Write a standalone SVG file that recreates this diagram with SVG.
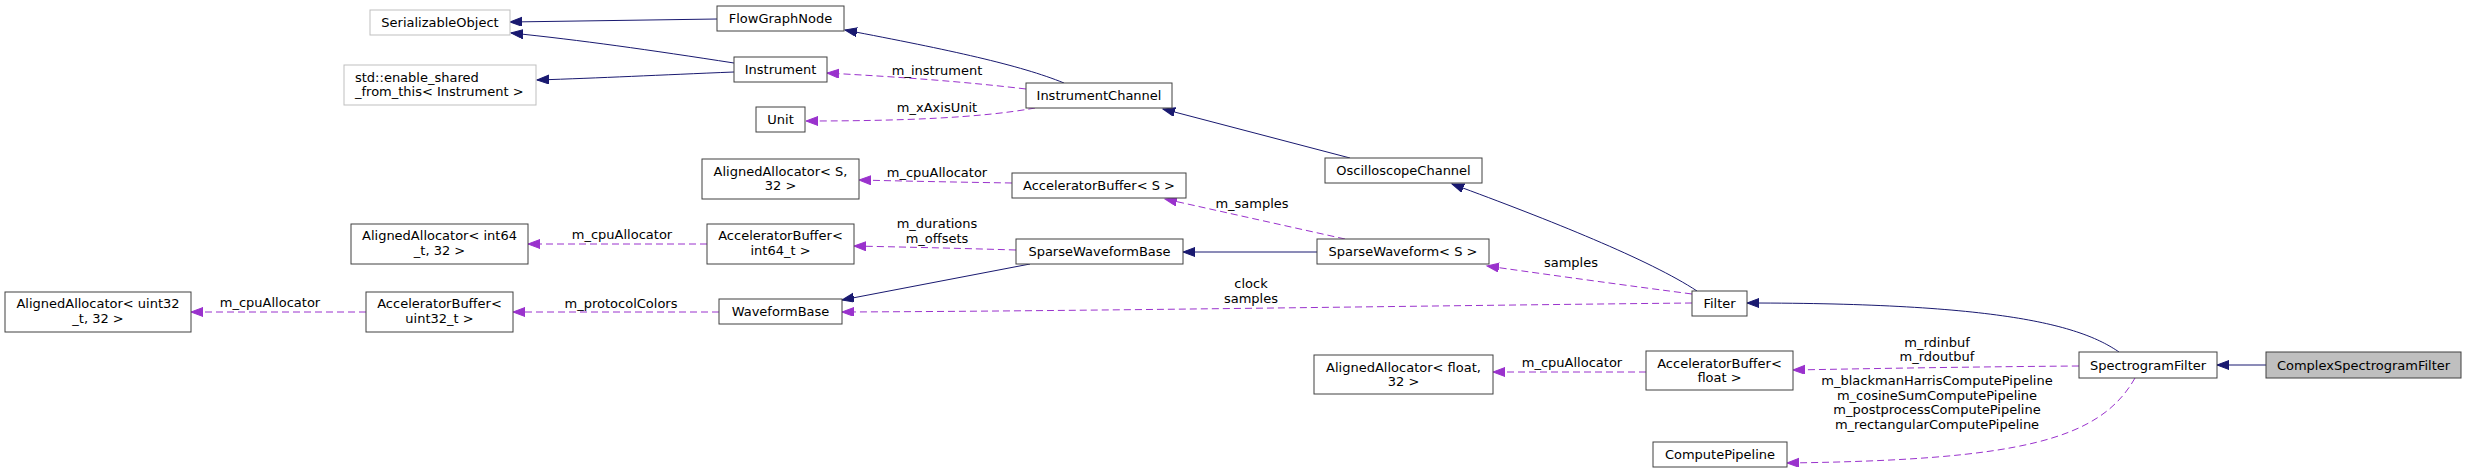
<svg xmlns="http://www.w3.org/2000/svg" width="2467" height="473" viewBox="0 0 2467 473">
<style>
text{font-family:"DejaVu Sans","Liberation Sans",sans-serif;font-size:13px;fill:#000}
.n rect{fill:#fff;stroke:#404040;stroke-width:1}
.g rect{fill:#fff;stroke:#bfbfbf;stroke-width:1}
.m{text-anchor:middle}
.s{fill:none;stroke:#191970;stroke-width:1}
.d{fill:none;stroke:#9a32cd;stroke-width:1;stroke-dasharray:7,4}
</style>
<defs>
<marker id="ab" markerUnits="userSpaceOnUse" markerWidth="14" markerHeight="10" refX="12" refY="4.5" orient="auto"><path d="M0,0 L12,4.5 L0,9 z" fill="#191970" stroke="#191970"/></marker>
<marker id="ap" markerUnits="userSpaceOnUse" markerWidth="14" markerHeight="10" refX="12" refY="4.5" orient="auto"><path d="M0,0 L12,4.5 L0,9 z" fill="#9a32cd" stroke="#9a32cd"/></marker>
</defs>
<rect width="2467" height="473" fill="#fff"/>
<g id="edges">
<path class="s" marker-end="url(#ab)" d="M717,19 L510,22"/>
<path class="s" marker-end="url(#ab)" d="M734,63 C650,50 580,40 511,33"/>
<path class="s" marker-end="url(#ab)" d="M734,72 C660,75 600,78 537,80"/>
<path class="s" marker-end="url(#ab)" d="M1064,83 C1020,65 950,50 845,30"/>
<path class="s" marker-end="url(#ab)" d="M1350,158 L1163,109"/>
<path class="s" marker-end="url(#ab)" d="M1697,291 C1650,260 1550,220 1452,184"/>
<path class="s" marker-end="url(#ab)" d="M1030,264 L842,300"/>
<path class="s" marker-end="url(#ab)" d="M1317,252 L1183,252"/>
<path class="s" marker-end="url(#ab)" d="M2119,352 C2080,325 2000,303 1747,303"/>
<path class="s" marker-end="url(#ab)" d="M2266,365 L2217,365"/>
<path class="d" marker-end="url(#ap)" d="M1026,89 C950,80 880,76 827,73"/>
<path class="d" marker-end="url(#ap)" d="M1035,108 C980,118 900,121 806,121"/>
<path class="d" marker-end="url(#ap)" d="M1012,183 C950,182 900,181 859,180"/>
<path class="d" marker-end="url(#ap)" d="M707,244 L528,244"/>
<path class="d" marker-end="url(#ap)" d="M1016,250 C950,248 900,247 854,246"/>
<path class="d" marker-end="url(#ap)" d="M366,312 L191,312"/>
<path class="d" marker-end="url(#ap)" d="M719,312 L513,312"/>
<path class="d" marker-end="url(#ap)" d="M1345,239 L1165,199"/>
<path class="d" marker-end="url(#ap)" d="M1692,294 C1600,282 1530,272 1487,266"/>
<path class="d" marker-end="url(#ap)" d="M1692,303 C1400,306 1100,311 842,312"/>
<path class="d" marker-end="url(#ap)" d="M2079,366 C1950,367 1850,369 1793,370"/>
<path class="d" marker-end="url(#ap)" d="M1646,372 L1493,372"/>
<path class="d" marker-end="url(#ap)" d="M2135,378 C2100,440 2020,460 1787,463"/>
<text class="m" x="937" y="75">m_instrument</text>
<text class="m" x="937" y="112">m_xAxisUnit</text>
<text class="m" x="937" y="177">m_cpuAllocator</text>
<text class="m" x="1252" y="208">m_samples</text>
<text class="m" x="937" y="228">m_durations</text>
<text class="m" x="937" y="243">m_offsets</text>
<text class="m" x="622" y="239">m_cpuAllocator</text>
<text class="m" x="1251" y="288">clock</text>
<text class="m" x="1251" y="303">samples</text>
<text class="m" x="1571" y="267">samples</text>
<text class="m" x="270" y="307">m_cpuAllocator</text>
<text class="m" x="621" y="308">m_protocolColors</text>
<text class="m" x="1572" y="367">m_cpuAllocator</text>
<text class="m" x="1937" y="347">m_rdinbuf</text>
<text class="m" x="1937" y="361">m_rdoutbuf</text>
<text class="m" x="1937" y="385">m_blackmanHarrisComputePipeline</text>
<text class="m" x="1937" y="399.7">m_cosineSumComputePipeline</text>
<text class="m" x="1937" y="414.4">m_postprocessComputePipeline</text>
<text class="m" x="1937" y="429">m_rectangularComputePipeline</text>
</g>
<g id="SerializableObject" class="g"><rect x="370" y="10" width="140" height="25"/><text class="m" x="440" y="27" fill="#000">SerializableObject</text></g>
<g id="FlowGraphNode" class="n"><rect x="717" y="6" width="127" height="25"/><text class="m" x="780.5" y="23">FlowGraphNode</text></g>
<g id="Instrument" class="n"><rect x="734" y="57" width="93" height="25"/><text class="m" x="780.5" y="74">Instrument</text></g>
<g id="enable_shared_from_this" class="g"><rect x="344" y="65" width="192" height="40"/><text x="355" y="81.5">std::enable_shared</text><text x="355" y="96">_from_this&lt; Instrument &gt;</text></g>
<g id="Unit" class="n"><rect x="756" y="107" width="49" height="25"/><text class="m" x="780.5" y="124">Unit</text></g>
<g id="InstrumentChannel" class="n"><rect x="1026" y="83" width="146" height="25"/><text class="m" x="1099" y="100">InstrumentChannel</text></g>
<g id="OscilloscopeChannel" class="n"><rect x="1325" y="158" width="157" height="25"/><text class="m" x="1403.5" y="175">OscilloscopeChannel</text></g>
<g id="AlignedAllocatorS" class="n"><rect x="702" y="159" width="157" height="40"/><text class="m" x="780.5" y="175.5">AlignedAllocator&lt; S,</text><text class="m" x="780.5" y="190">32 &gt;</text></g>
<g id="AcceleratorBufferS" class="n"><rect x="1012" y="173" width="174" height="25"/><text class="m" x="1099" y="190">AcceleratorBuffer&lt; S &gt;</text></g>
<g id="AlignedAllocatorInt64" class="n"><rect x="351" y="224" width="177" height="40"/><text class="m" x="439.5" y="240">AlignedAllocator&lt; int64</text><text class="m" x="439.5" y="255">_t, 32 &gt;</text></g>
<g id="AcceleratorBufferInt64" class="n"><rect x="707" y="224" width="147" height="40"/><text class="m" x="780.5" y="240">AcceleratorBuffer&lt;</text><text class="m" x="780.5" y="255">int64_t &gt;</text></g>
<g id="SparseWaveformBase" class="n"><rect x="1016" y="239" width="167" height="25"/><text class="m" x="1099.5" y="256">SparseWaveformBase</text></g>
<g id="SparseWaveformS" class="n"><rect x="1317" y="239" width="172" height="25"/><text class="m" x="1403" y="256">SparseWaveform&lt; S &gt;</text></g>
<g id="AlignedAllocatorUint32" class="n"><rect x="5" y="292" width="186" height="40"/><text class="m" x="98" y="308">AlignedAllocator&lt; uint32</text><text class="m" x="98" y="323">_t, 32 &gt;</text></g>
<g id="AcceleratorBufferUint32" class="n"><rect x="366" y="292" width="147" height="40"/><text class="m" x="439.5" y="308">AcceleratorBuffer&lt;</text><text class="m" x="439.5" y="323">uint32_t &gt;</text></g>
<g id="WaveformBase" class="n"><rect x="719" y="299" width="123" height="25"/><text class="m" x="780.5" y="316">WaveformBase</text></g>
<g id="Filter" class="n"><rect x="1692" y="291" width="55" height="25"/><text class="m" x="1719.5" y="308">Filter</text></g>
<g id="AlignedAllocatorFloat" class="n"><rect x="1314" y="355" width="179" height="39"/><text class="m" x="1403.5" y="371.5">AlignedAllocator&lt; float,</text><text class="m" x="1403.5" y="386">32 &gt;</text></g>
<g id="AcceleratorBufferFloat" class="n"><rect x="1646" y="351" width="147" height="39"/><text class="m" x="1719.5" y="367.5">AcceleratorBuffer&lt;</text><text class="m" x="1719.5" y="382">float &gt;</text></g>
<g id="SpectrogramFilter" class="n"><rect x="2079" y="352" width="138" height="26"/><text class="m" x="2148" y="369.5">SpectrogramFilter</text></g>
<g id="ComplexSpectrogramFilter" class="n"><rect x="2266" y="352" width="195" height="26" style="fill:#bfbfbf"/><text class="m" x="2363.5" y="369.5">ComplexSpectrogramFilter</text></g>
<g id="ComputePipeline" class="n"><rect x="1653" y="442" width="134" height="25"/><text class="m" x="1720" y="459">ComputePipeline</text></g>
</svg>
